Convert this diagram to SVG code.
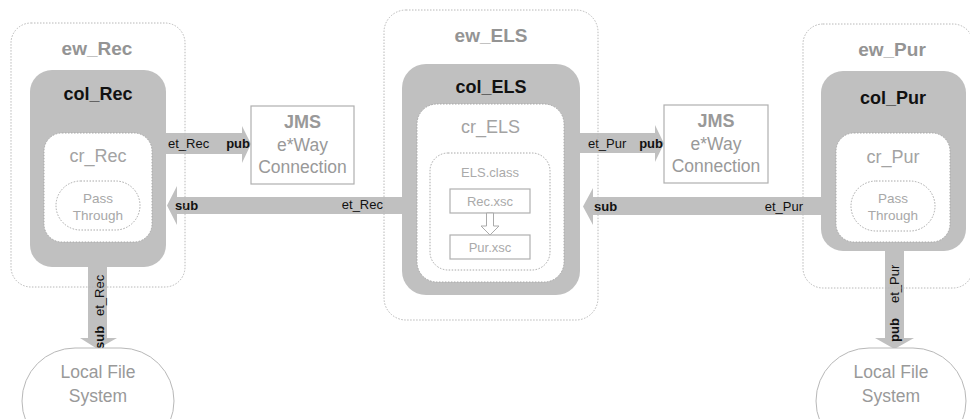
<svg xmlns="http://www.w3.org/2000/svg" width="970" height="419" viewBox="0 0 970 419">
<style>
text{font-family:"Liberation Sans",Arial,sans-serif}
.bg{fill:#fff}
.ew{fill:none;stroke:#b8b8b8;stroke-width:1;stroke-dasharray:1.5 1.5}
.col{fill:#c0c0c0}
.cr{fill:#fff;stroke:#a8a8a8;stroke-width:1;stroke-dasharray:1.5 1.5}
.pt{fill:#fff;stroke:#a8a8a8;stroke-width:1;stroke-dasharray:1.5 1.5}
.box{fill:#fff;stroke:#b0b0b0;stroke-width:1.2}
.lfs{fill:#fff;stroke:#b8b8b8;stroke-width:1}
.arr{fill:#c0c0c0}
.ewt{font-size:19px;font-weight:bold;fill:#949494;text-anchor:middle}
.colt{font-size:18px;font-weight:bold;fill:#111;text-anchor:middle}
.crt{font-size:18px;fill:#a3a3a3;text-anchor:middle}
.ptt{font-size:13.5px;fill:#a8a8a8;text-anchor:middle}
.jt{font-size:17.5px;fill:#999;text-anchor:middle}
.jb{font-size:18px;font-weight:bold;fill:#999;text-anchor:middle}
.st{font-size:13px;fill:#aaa;text-anchor:middle}
.lab{font-size:13px;fill:#111}
.labb{font-size:13px;font-weight:bold;fill:#111}
</style>
<rect x="0" y="0" width="970" height="419" fill="#fff"/>
<g id="connectors">
  <polygon class="arr" points="166,133 242,133 242,126 251,144 242,163 242,154 166,154"/>
  <polygon class="arr" points="402,197 177,197 177,186 167,205.5 177,225 177,214 402,214"/>
  <polygon class="arr" points="580,133 655,133 655,125 664,143.5 655,162 655,153 580,153"/>
  <polygon class="arr" points="821,197 593,197 593,188 583,206.5 593,225 593,215 821,215"/>
  <polygon class="arr" points="88,267 107,267 107,338 117,338 97.5,349 80,338 88,338"/>
  <polygon class="arr" points="885,251 904,251 904,338 914,338 894.5,349 875,338 885,338"/>
  <text class="lab" x="168" y="148">et_Rec</text>
  <text class="labb" x="250" y="148" text-anchor="end">pub</text>
  <text class="labb" x="175" y="210">sub</text>
  <text class="lab" x="383" y="209" text-anchor="end">et_Rec</text>
  <text class="lab" x="588" y="148">et_Pur</text>
  <text class="labb" x="663" y="148" text-anchor="end">pub</text>
  <text class="labb" x="594" y="211">sub</text>
  <text class="lab" x="803" y="211" text-anchor="end">et_Pur</text>
  <text class="lab" transform="translate(104,316) rotate(-90)">et_Rec</text>
  <text class="labb" transform="translate(104,349) rotate(-90)">sub</text>
  <text class="lab" transform="translate(899,303) rotate(-90)">et_Pur</text>
  <text class="labb" transform="translate(899,342) rotate(-90)">pub</text>
</g>
<g id="ew_Rec">
  <rect class="ew" x="11" y="23" width="174" height="264" rx="20"/>
  <text class="ewt" x="97" y="55">ew_Rec</text>
</g>
<g id="col_Rec">
  <rect class="col" x="30" y="70" width="136" height="197" rx="22"/>
  <text class="colt" x="98" y="100">col_Rec</text>
</g>
<g id="cr_Rec">
  <rect class="cr" x="44" y="133" width="108" height="109" rx="18"/>
  <text class="crt" x="98" y="162">cr_Rec</text>
</g>
<g id="pass_Rec">
  <rect class="pt" x="56" y="181" width="84" height="49" rx="24.5"/>
  <text class="ptt" x="98" y="203">Pass</text>
  <text class="ptt" x="98" y="220">Through</text>
</g>
<g id="jms_1">
  <rect class="box" x="251" y="106" width="103" height="78"/>
  <text class="jb" x="302.5" y="128">JMS</text>
  <text class="jt" x="302.5" y="151">e*Way</text>
  <text class="jt" x="302.5" y="173">Connection</text>
</g>
<g id="ew_ELS">
  <rect class="ew" x="384" y="10" width="214" height="310" rx="22"/>
  <text class="ewt" x="491" y="42">ew_ELS</text>
</g>
<g id="col_ELS">
  <rect class="col" x="402" y="64" width="178" height="231" rx="24"/>
  <text class="colt" x="491" y="93">col_ELS</text>
</g>
<g id="cr_ELS">
  <rect class="cr" x="417" y="104" width="147" height="178" rx="20"/>
  <text class="crt" x="490.5" y="133">cr_ELS</text>
</g>
<g id="ELS_class">
  <rect class="cr" x="430" y="153" width="120" height="117" rx="18"/>
  <text class="st" x="490" y="177">ELS.class</text>
</g>
<g id="Rec_xsc">
  <rect class="box" x="450" y="189" width="80" height="24" stroke-width="1"/>
  <text class="st" x="490" y="206">Rec.xsc</text>
</g>
<g id="xsc_arrow">
  <polygon points="486.5,213 493.5,213 493.5,226 499,226 490,235 481,226 486.5,226" fill="#fff" stroke="#aaa" stroke-width="1"/>
</g>
<g id="Pur_xsc">
  <rect class="box" x="450" y="235" width="80" height="24" stroke-width="1"/>
  <text class="st" x="490" y="252">Pur.xsc</text>
</g>
<g id="jms_2">
  <rect class="box" x="664" y="105" width="104" height="78"/>
  <text class="jb" x="716" y="127">JMS</text>
  <text class="jt" x="716" y="150">e*Way</text>
  <text class="jt" x="716" y="172">Connection</text>
</g>
<g id="ew_Pur">
  <rect class="ew" x="803" y="24" width="170" height="264" rx="20"/>
  <text class="ewt" x="892" y="56">ew_Pur</text>
</g>
<g id="col_Pur">
  <rect class="col" x="821" y="71" width="145" height="180" rx="22"/>
  <text class="colt" x="893" y="104" font-size="20">col_Pur</text>
</g>
<g id="cr_Pur">
  <rect class="cr" x="836" y="133" width="114" height="109" rx="18"/>
  <text class="crt" x="893" y="163">cr_Pur</text>
</g>
<g id="pass_Pur">
  <rect class="pt" x="851" y="181" width="84" height="50" rx="25"/>
  <text class="ptt" x="893" y="203">Pass</text>
  <text class="ptt" x="893" y="220">Through</text>
</g>
<g id="lfs_Rec">
  <rect class="lfs" x="22" y="348" width="152" height="106" rx="53"/>
  <text class="jt" x="98" y="378">Local File</text>
  <text class="jt" x="98" y="402">System</text>
</g>
<g id="lfs_Pur">
  <rect class="lfs" x="816" y="348" width="150" height="106" rx="53"/>
  <text class="jt" x="891" y="378">Local File</text>
  <text class="jt" x="891" y="402">System</text>
</g>
</svg>
